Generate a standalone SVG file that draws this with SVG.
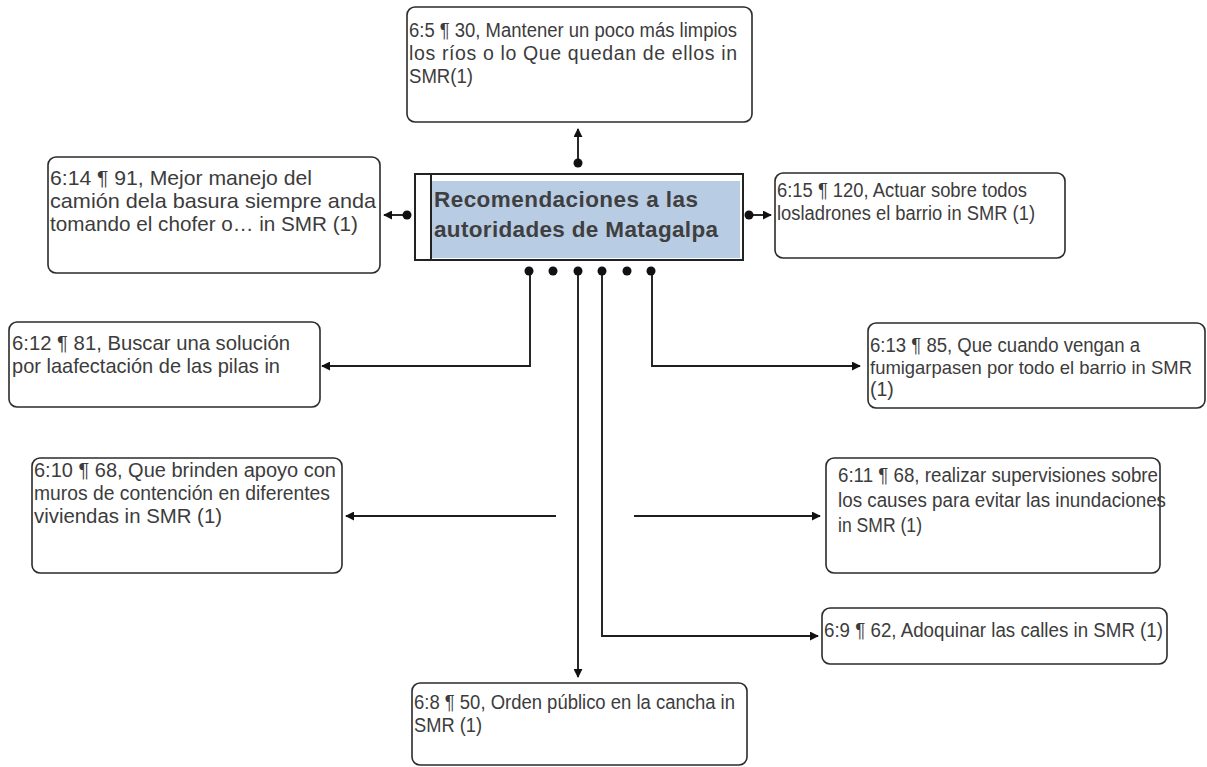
<svg xmlns="http://www.w3.org/2000/svg" width="1207" height="767" viewBox="0 0 1207 767">
  <style>
    .box { fill: #ffffff; stroke: #2b2b2b; stroke-width: 1.6; }
    .txt { font-family: "Liberation Sans", Arial, sans-serif; font-size: 19.5px; fill: #3c3c3c; }
    .big { font-size: 21px; }
    .snug { font-size: 18.5px; }
    .title { font-family: "Liberation Sans", Arial, sans-serif; font-size: 22.5px; font-weight: bold; fill: #3f3f3f; }
    .wire { fill: none; stroke: #1e1e1e; stroke-width: 1.9; }
    .dot { fill: #111111; }
  </style>
  <defs>
    <marker id="arrow" viewBox="0 0 10 10" refX="9" refY="5" markerWidth="9" markerHeight="9" markerUnits="userSpaceOnUse" orient="auto">
      <path d="M0,0 L10,5 L0,10 Z" fill="#111111"/>
    </marker>
  </defs>

  <rect width="1207" height="767" fill="#ffffff"/>

  <!-- central node -->
  <g id="node-center">
    <rect x="415" y="174" width="328" height="86" fill="#ffffff" stroke="#222222" stroke-width="2"/>
    <rect x="432" y="181" width="308" height="77" fill="#b8cce4"/>
    <line x1="431" y1="174" x2="431" y2="260" stroke="#222222" stroke-width="2"/>
    <text class="title" x="434" y="207" textLength="264">Recomendaciones  a las</text>
    <text class="title" x="434" y="237" textLength="284">autoridades de Matagalpa</text>
  </g>

  <!-- quotation nodes -->
  <g id="node-6-5">
    <rect class="box" x="407" y="7" width="345" height="115" rx="8"/>
    <text class="txt" x="409" y="37" textLength="328" lengthAdjust="spacingAndGlyphs">6:5 ¶ 30, Mantener un poco más limpios</text>
    <text class="txt" x="409" y="60" textLength="328">los ríos o lo Que quedan de ellos in</text>
    <text class="txt" x="409" y="83" textLength="64" lengthAdjust="spacingAndGlyphs">SMR(1)</text>
  </g>

  <g id="node-6-14">
    <rect class="box" x="48" y="157" width="332" height="116" rx="8"/>
    <text class="txt big" x="50" y="185" textLength="262" lengthAdjust="spacingAndGlyphs">6:14 ¶ 91, Mejor manejo del</text>
    <text class="txt big" x="50" y="208" textLength="326" lengthAdjust="spacingAndGlyphs">camión dela basura siempre anda</text>
    <text class="txt big" x="50" y="231" textLength="308" lengthAdjust="spacingAndGlyphs">tomando el chofer o… in SMR (1)</text>
  </g>

  <g id="node-6-15">
    <rect class="box" x="775" y="173" width="290" height="85" rx="8"/>
    <text class="txt" x="777" y="197" textLength="250" lengthAdjust="spacingAndGlyphs">6:15 ¶ 120, Actuar sobre todos</text>
    <text class="txt" x="777" y="220" textLength="258" lengthAdjust="spacingAndGlyphs">losladrones el barrio in SMR (1)</text>
  </g>

  <g id="node-6-12">
    <rect class="box" x="9" y="322" width="311" height="85" rx="8"/>
    <text class="txt big" x="12" y="350" textLength="278" lengthAdjust="spacingAndGlyphs">6:12 ¶ 81, Buscar una solución</text>
    <text class="txt big" x="12" y="373" textLength="268" lengthAdjust="spacingAndGlyphs">por laafectación de las pilas in</text>
  </g>

  <g id="node-6-13">
    <rect class="box" x="868" y="323" width="337" height="85" rx="8"/>
    <text class="txt" x="870" y="352" textLength="270" lengthAdjust="spacingAndGlyphs">6:13 ¶ 85, Que cuando vengan a</text>
    <text class="txt snug" x="870" y="374" textLength="322" lengthAdjust="spacingAndGlyphs">fumigarpasen por todo el barrio in SMR</text>
    <text class="txt" x="870" y="396">(1)</text>
  </g>

  <g id="node-6-10">
    <rect class="box" x="32" y="458" width="310" height="115" rx="8"/>
    <text class="txt" x="34" y="477" textLength="302" lengthAdjust="spacingAndGlyphs">6:10 ¶ 68, Que brinden apoyo con</text>
    <text class="txt" x="34" y="500" textLength="296" lengthAdjust="spacingAndGlyphs">muros de contención en diferentes</text>
    <text class="txt" x="34" y="523" textLength="188" lengthAdjust="spacingAndGlyphs">viviendas in SMR (1)</text>
  </g>

  <g id="node-6-11">
    <rect class="box" x="826" y="458" width="334" height="115" rx="8"/>
    <text class="txt" x="838" y="482" textLength="320" lengthAdjust="spacingAndGlyphs">6:11 ¶ 68, realizar supervisiones sobre</text>
    <text class="txt" x="838" y="507" textLength="328" lengthAdjust="spacingAndGlyphs">los causes para evitar las inundaciones</text>
    <text class="txt" x="838" y="532" textLength="84" lengthAdjust="spacingAndGlyphs">in SMR (1)</text>
  </g>

  <g id="node-6-9">
    <rect class="box" x="822" y="608" width="345" height="56" rx="8"/>
    <text class="txt" x="824" y="637" textLength="339" lengthAdjust="spacingAndGlyphs">6:9 ¶ 62, Adoquinar las calles in SMR (1)</text>
  </g>

  <g id="node-6-8">
    <rect class="box" x="412" y="683" width="335" height="82" rx="8"/>
    <text class="txt" x="414" y="709" textLength="321" lengthAdjust="spacingAndGlyphs">6:8 ¶ 50, Orden público en la cancha in</text>
    <text class="txt" x="414" y="732" textLength="68" lengthAdjust="spacingAndGlyphs">SMR (1)</text>
  </g>

  <!-- connectors -->
  <g id="connectors">
    <path class="wire" d="M578,163 L578,129" marker-end="url(#arrow)"/>
    <path class="wire" d="M407,215 L384,215" marker-end="url(#arrow)"/>
    <path class="wire" d="M749,215 L771,215" marker-end="url(#arrow)"/>
    <path class="wire" d="M530,271 L530,366 L322,366" marker-end="url(#arrow)"/>
    <path class="wire" d="M578,271 L578,677" marker-end="url(#arrow)"/>
    <path class="wire" d="M602,271 L602,636 L818,636" marker-end="url(#arrow)"/>
    <path class="wire" d="M652,271 L652,366 L860,366" marker-end="url(#arrow)"/>
    <path class="wire" d="M556,516 L346,516" marker-end="url(#arrow)"/>
    <path class="wire" d="M634,516 L820,516" marker-end="url(#arrow)"/>

    <circle class="dot" cx="578" cy="163" r="4.5"/>
    <circle class="dot" cx="407" cy="215" r="4.5"/>
    <circle class="dot" cx="749" cy="215" r="4.5"/>
    <circle class="dot" cx="529" cy="271" r="4.5"/>
    <circle class="dot" cx="553" cy="271" r="4.5"/>
    <circle class="dot" cx="578" cy="271" r="4.5"/>
    <circle class="dot" cx="602" cy="271" r="4.5"/>
    <circle class="dot" cx="627" cy="271" r="4.5"/>
    <circle class="dot" cx="651" cy="271" r="4.5"/>
  </g>
</svg>
